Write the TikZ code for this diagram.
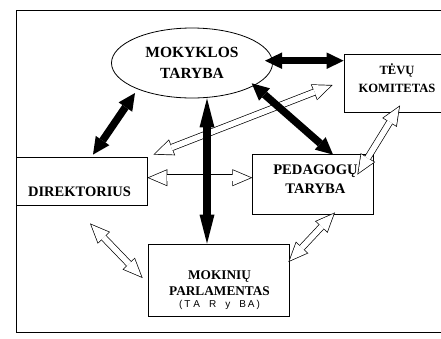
\documentclass[tikz,border=0pt]{standalone}
\usepackage{fontspec}
\setmainfont{Liberation Serif}
\newfontfamily\handfont{Liberation Sans}
\usetikzlibrary{shapes, arrows.meta, calc, positioning}

\begin{document}
\begin{tikzpicture}[x=1pt, y=-1pt, line width=0.8pt,
        box/.style={draw, rectangle, inner sep=0pt},
        lbl/.style={align=center, font=\bfseries},
        blk/.style={line width=7.5pt, {Triangle[length=17pt,width=16.5pt,line width=0pt]}-{Triangle[length=17pt,width=16.5pt,line width=0pt]}},
        vblk/.style={line width=8.5pt, {Triangle[length=29pt,width=15pt,line width=0pt]}-{Triangle[length=29pt,width=15pt,line width=0pt]}},
        wht/.style={line width=7pt, {Triangle[length=20pt,width=17pt,line width=0pt]}-{Triangle[length=20pt,width=17pt,line width=0pt]},
            postaction={draw=white, line width=5.6pt, shorten <=1.8pt, shorten >=1.8pt,
                {Triangle[length=17.5pt,width=14.9pt,line width=0pt]}-{Triangle[length=17.5pt,width=14.9pt,line width=0pt]}}}]
    \useasboundingbox (0,0) rectangle (441,338);
    \clip (0,0) rectangle (441,338);

    % frame
    \draw (441,10) -- (16,10) -- (16,332) -- (441,332);

    \node [draw, ellipse, minimum width=161pt, minimum height=70pt, inner sep=0pt, align=center,
        font=\bfseries\fontsize{15.5}{21.7}\selectfont] (mokt) at (192,63) {MOKYKLOS\\TARYBA};

    \node [box, minimum width=106pt, minimum height=58pt,
        label={[lbl, font=\bfseries\fontsize{12.6}{17.7}\selectfont, yshift=5pt]center:{TĖVŲ\\KOMITETAS}}] (tevu) at (397,83) {};
    \node [box, minimum width=131pt, minimum height=48pt,
        label={[lbl, font=\bfseries\fontsize{14.5}{18}\selectfont, xshift=-2pt, yshift=-11pt]center:DIREKTORIUS}] (dir) at (81.5,181) {};
    \node [box, minimum width=121pt, minimum height=60pt,
        label={[lbl, font=\bfseries\fontsize{14.6}{18.3}\selectfont, xshift=3pt, yshift=4.8pt]center:{PEDAGOGŲ\\TARYBA}}] (ped) at (312.5,184) {};
    \node [box, minimum width=141pt, minimum height=72pt,
        label={[lbl, font=\bfseries\fontsize{13.3}{16.3}\selectfont, xshift=1pt, yshift=-10pt]center:{MOKINIŲ\\PARLAMENTAS\\[-4.3pt]{\handfont\mdseries\fontsize{10}{10}\selectfont (\hspace{2pt}T\hspace{3pt}A\hspace{9pt}R\hspace{9pt}y\hspace{9pt}B\hspace{2pt}A\hspace{2pt})}}}] (mok) at (218.5,280) {};

    % white arrows
    \draw [wht] ($(dir.north east)+(6,-2)$) -- ($(tevu.west)+(-11,2)$);
    \draw [wht] ($(dir.east)+(0,-3.3)$) -- ($(ped.west)+(0.7,-6.3)$);
    \draw [wht] ($(ped.north east)+(-16,21)$) -- ($(tevu.south)+(3,-7)$);
    \draw [wht] ($(dir.south)+(8.5,18)$) -- ($(mok.west)+(-5,-2)$);
    \draw [wht] ($(ped.south)+(22.5,-2)$) -- ($(mok.east)+(-1,-18)$);

    % black arrows
    \draw [blk] ($(mokt.center)+(-57,30)$) -- ($(dir.north)+(11.5,-2)$);
    \draw [blk] ($(mokt.center)+(73,-2.3)$) -- ($(tevu.west)+(0,-22.3)$);
    \draw [blk] ($(mokt.center)+(59.7,20.3)$) -- ($(ped.north)+(20.5,1)$);
    \draw [vblk] ($(mokt.south)+(15,0)$) -- ($(mok.north)+(-11.5,0)$);
\end{tikzpicture}
\end{document}
